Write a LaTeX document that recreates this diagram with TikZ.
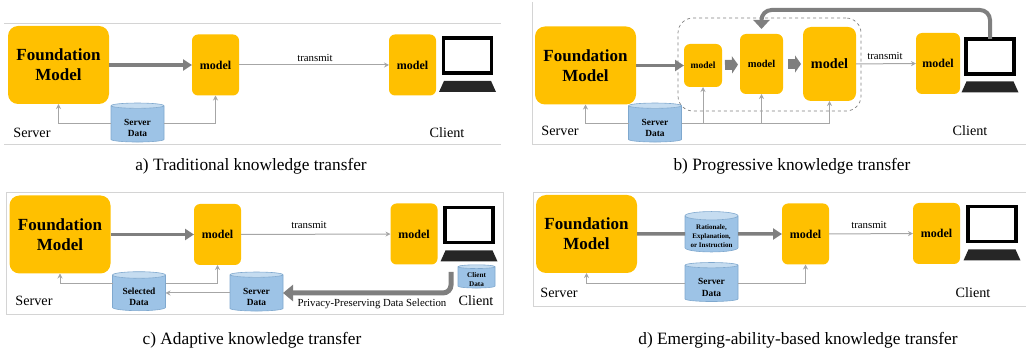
\documentclass[tikz,border=0pt]{standalone}
\usepackage{fontspec}
\setmainfont{Liberation Serif}
\usetikzlibrary{arrows.meta, positioning, shapes.geometric}

\definecolor{modelgold}{HTML}{FFC000}
\definecolor{dbbody}{HTML}{9DC3E6}
\definecolor{dbtop}{HTML}{C5DCF0}
\definecolor{dbline}{HTML}{7FA8CE}
\definecolor{thickgray}{HTML}{7F7F7F}
\definecolor{thingray}{HTML}{A6A6A6}
\definecolor{framegray}{HTML}{D4D4D4}

\newcommand{\fsz}[1]{\fontsize{#1}{#1}\selectfont}
\newcommand{\dbpad}[1]{\rule{0pt}{#1pt}}

\begin{document}
\begin{tikzpicture}[
    x=1pt, y=-1pt,
    every node/.style={inner sep=0pt, outer sep=0pt, align=center},
    foundation style/.style={rectangle, rounded corners=10pt, fill=modelgold, minimum width=101pt, minimum height=78pt, font=\fsz{17}\bfseries},
    model style/.style={rectangle, rounded corners=6pt, fill=modelgold, minimum width=47pt, minimum height=61pt, font=\fsz{12}\bfseries},
    db style/.style={cylinder, shape border rotate=90, aspect=0.2, cylinder uses custom fill, cylinder body fill=dbbody, cylinder end fill=dbtop, draw=dbline, line width=0.6pt, minimum width=53pt, minimum height=39pt, font=\fsz{9.4}\bfseries},
    screen style/.style={rectangle, draw=black, fill=white, line width=3.5pt, minimum width=48pt, minimum height=35pt},
    base style/.style={trapezium, trapezium stretches=true, inner sep=1pt, trapezium left angle=84, trapezium right angle=84, fill=black!85, minimum width=57pt, minimum height=11pt},
    side label/.style={font=\fsz{14.2}},
    send label/.style={font=\fsz{10.8}},
    caption label/.style={font=\fsz{17.3}},
    frame line/.style={draw=framegray, line width=0.8pt},
    thick arrow/.style={draw=thickgray, line width=3.5pt, -{Triangle[length=9pt, width=11pt]}},
    thin arrow/.style={draw=thingray, line width=1pt, -{Stealth[length=5pt, width=5pt]}},
    block arrow/.style={draw=thickgray, line width=10pt, -{Triangle[length=6pt, width=17pt]}}
]
\useasboundingbox (0,0) rectangle (1026,355);

% Panel a
\draw[frame line] (4,23.5) -- (501,23.5);
\draw[frame line] (4,144.5) -- (501,144.5);
\node[foundation style] (fma) at (58.5,65) {Foundation\\[3pt]Model};
\node[model style] (mda) at (215.5,65) {model};
\node[model style] (cla) at (412.5,65) {model};
\node[screen style] (scra) at (467.5,55.5) {};
\node[base style] (basa) at (467.5,86.5) {};
\node[db style] (dba) at (137.5,124) {\dbpad{14}Server\\[2pt]Data};
\node[side label] at (32,132.5) {Server};
\node[side label] at (447,132.5) {Client};
\node[send label] at (315,57.5) {transmit};
\node[caption label] at (251,166) {a) Traditional knowledge transfer};
\path (fma) edge[thick arrow] (mda);
\path (mda) edge[thin arrow] (cla);
\draw[thin arrow] (dba.west) -| (fma.south);
\draw[thin arrow] (dba.east) -| (mda.south);

% Panel b
\draw[frame line] (532,2) -- (532,144.5) -- (1026,144.5);
\node[rectangle, rounded corners=15pt, draw=gray, dashed, line width=0.7pt, minimum width=183pt, minimum height=93pt] (prog) at (769.5,64.5) {};
\node[foundation style] (fmb) at (585.5,65.5) {Foundation\\[3pt]Model};
\node[model style, minimum width=38pt, minimum height=43pt, font=\fsz{9.5}\bfseries] (mdb1) at (703,65.5) {model};
\node[model style, minimum width=43pt, minimum height=60pt, font=\fsz{10.5}\bfseries] (mdb2) at (761.5,64) {model};
\node[model style, rounded corners=8pt, minimum width=53pt, minimum height=74pt, font=\fsz{14.2}\bfseries] (mdb3) at (829.5,64) {model};
\node[model style, minimum width=44pt] (clb) at (938,63.5) {model};
\node[screen style] (scrb) at (990,56.5) {};
\node[base style] (basb) at (990,87) {};
\node[db style] (dbb) at (655,124) {\dbpad{14}Server\\[2pt]Data};
\node[side label] at (560,130.5) {Server};
\node[side label] at (970,130.5) {Client};
\node[send label] at (885,56) {transmit};
\node[caption label] at (792,166) {b) Progressive knowledge transfer};
\path (fmb) edge[thick arrow] (mdb1);
\path (mdb1) edge[block arrow, shorten <=3pt, shorten >=2pt] (mdb2);
\path (mdb2) edge[block arrow, shorten <=5pt, shorten >=2pt] (mdb3);
\path (mdb3) edge[thin arrow] (clb);
\draw[thick arrow, rounded corners=10pt, shorten >=5pt, line width=4pt, -{Triangle[length=9pt, width=16pt]}] (scrb.north) -- ++(0,-29) -| (mdb2.north);
\draw[thin arrow] (dbb.west) -| (fmb.south);
\draw[thin arrow] (dbb.east) -| (mdb1.south);
\draw[thin arrow] (dbb.east) -| (mdb2.south);
\draw[thin arrow] (dbb.east) -| (mdb3.south);

% Panel c
\draw[frame line] (6,192.5) rectangle (503,314.5);
\node[foundation style] (fmc) at (60,234.5) {Foundation\\[3pt]Model};
\node[model style] (mdc) at (217.5,234.5) {model};
\node[model style] (clc) at (414,234) {model};
\node[screen style] (scrc) at (469,225) {};
\node[base style] (basc) at (469,256) {};
\node[db style] (dbc1) at (139,293) {\dbpad{14}Selected\\[2pt]Data};
\node[db style] (dbc2) at (256.5,293) {\dbpad{14}Server\\[2pt]Data};
\node[db style, minimum width=37pt, minimum height=23pt, font=\fsz{7.2}\bfseries] (dbc3) at (476.5,277.5) {\dbpad{9}Client\\[1pt]Data};
\node[side label] at (34,300.5) {Server};
\node[side label] at (476,300.5) {Client};
\node[send label] at (309,225) {transmit};
\node[send label] (prv) at (372,303.5) {Privacy-Preserving Data Selection};
\node[caption label] at (252,340) {c) Adaptive knowledge transfer};
\coordinate (prvstart) at (451,272);
\coordinate (selwest) at (113,284);
\coordinate (seleast) at (165.5,284);
\path (fmc) edge[thick arrow] (mdc);
\path (mdc) edge[thin arrow] (clc);
\draw[thin arrow] (selwest) -| (fmc.south);
\draw[thin arrow] (seleast) -| (mdc.south);
\draw[thin arrow] (dbc2.west) -- (dbc1.east);
\draw[thick arrow, rounded corners=8pt, line width=5pt, -{Triangle[length=10pt, width=16pt]}] (prvstart) |- (dbc2.east);

% Panel d
\draw[frame line] (1026,192.5) -- (533,192.5) -- (533,306.5) -- (1026,306.5);
\node[foundation style] (fmd) at (586.5,234) {Foundation\\[3pt]Model};
\node[db style, font=\fsz{7}\bfseries] (dbd1) at (711.5,234) {\dbpad{9.5}Rationale,\\[2pt]Explanation,\\[2pt]or Instruction};
\node[db style] (dbd2) at (711.5,283.5) {\dbpad{14}Server\\[2pt]Data};
\node[model style] (mdd) at (805.5,234) {model};
\node[model style] (cld) at (936.5,233.5) {model};
\node[screen style] (scrd) at (992,224) {};
\node[base style] (basd) at (992,255) {};
\node[side label] at (559,293) {Server};
\node[side label] at (973,293) {Client};
\node[send label] at (869,225) {transmit};
\node[caption label] at (798,340) {d) Emerging-ability-based knowledge transfer};
\draw[draw=thickgray, line width=3.5pt] (fmd.east) -- (dbd1.west);
\path (dbd1) edge[thick arrow] (mdd);
\path (mdd) edge[thin arrow] (cld);
\draw[thin arrow] (dbd2.west) -| (fmd.south);
\draw[thin arrow] (dbd2.east) -| (mdd.south);

\end{tikzpicture}
\end{document}
